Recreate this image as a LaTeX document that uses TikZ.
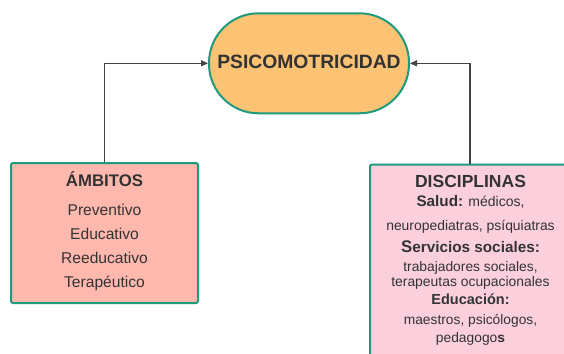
\documentclass[tikz,border=0pt]{standalone}
\usepackage{fontspec}
\setmainfont{Liberation Sans}
\usetikzlibrary{arrows.meta}
\definecolor{bordercol}{HTML}{1F9A7D}
\definecolor{stadfill}{HTML}{FBC373}
\definecolor{leftfill}{HTML}{FFB8AE}
\definecolor{rightfill}{HTML}{FBD0DC}
\definecolor{txt}{HTML}{333333}
\definecolor{linecol}{HTML}{444444}
\tikzset{
  stad/.style={draw=bordercol, line width=2pt, fill=stadfill, rounded corners=49.5pt, minimum width=200pt, minimum height=100pt, inner sep=0pt},
  boxleft/.style={draw=bordercol, line width=2pt, fill=leftfill, rounded corners=2pt, minimum width=187pt, minimum height=140pt, inner sep=0pt},
  boxright/.style={draw=bordercol, line width=2pt, fill=rightfill, rounded corners=2pt, minimum width=200pt, minimum height=210pt, inner sep=0pt},
  lbl/.style={anchor=base, inner sep=0pt, text=txt},
  arr/.style={draw=linecol, line width=1.2pt, -{Triangle[length=7pt,width=6pt]}},
}
\begin{document}
\begin{tikzpicture}[x=1pt,y=-1pt]
\useasboundingbox (0,0) rectangle (564,353);
\clip (0,0) rectangle (564,353);
\fill[white] (0,0) rectangle (564,353);
\node[stad] (p) at (309,63.3) {};
\node[lbl, font=\fontsize{19.3}{22}\selectfont\bfseries] (pt) at (309,68.3) {PSICOMOTRICIDAD};

\node[boxleft] (a) at (104.5,233) {};
\node[lbl, font=\fontsize{16.8}{20}\selectfont\bfseries] (a0) at (104.5,186.7) {ÁMBITOS};
\node[lbl, font=\fontsize{15.6}{18}\selectfont] (a1) at (104.5,215) {Preventivo};
\node[lbl, font=\fontsize{15.6}{18}\selectfont] (a2) at (104.5,239.3) {Educativo};
\node[lbl, font=\fontsize{15.6}{18}\selectfont] (a3) at (104.5,263.3) {Reeducativo};
\node[lbl, font=\fontsize{15.6}{18}\selectfont] (a4) at (104.5,287.3) {Terapéutico};

\node[boxright] (d) at (470,269.5) {};
\node[lbl, font=\fontsize{17.5}{20}\selectfont\bfseries] (d0) at (470.5,187.7) {DISCIPLINAS};
\node[lbl, font=\fontsize{14}{17}\selectfont] (d1) at (470.5,206.7) {{\fontsize{15.3}{17}\selectfont\bfseries Salud:} médicos,};
\node[lbl, font=\fontsize{13.9}{17}\selectfont] (d2) at (470.5,230.7) {neuropediatras, psíquiatras};
\node[lbl, font=\fontsize{15.3}{17}\selectfont\bfseries] (d3) at (470.5,252.7) {{\fontsize{16.8}{17}\selectfont S}ervicios sociales:};
\node[lbl, font=\fontsize{13.8}{17}\selectfont] (d4) at (470.5,271) {trabajadores sociales,};
\node[lbl, font=\fontsize{13.9}{17}\selectfont] (d5) at (470.5,286.7) {terapeutas ocupacionales};
\node[lbl, font=\fontsize{14.5}{17}\selectfont\bfseries] (d6) at (470.5,304) {Educación:};
\node[lbl, font=\fontsize{13.8}{17}\selectfont] (d7) at (470.5,324) {maestros, psicólogos,};
\node[lbl, font=\fontsize{13.8}{17}\selectfont] (d8) at (470.5,342) {pedagogo{\bfseries s}};

\draw[arr] (a.north) |- (p.west);
\draw[arr] (d.north) |- (p.east);
\end{tikzpicture}
\end{document}
